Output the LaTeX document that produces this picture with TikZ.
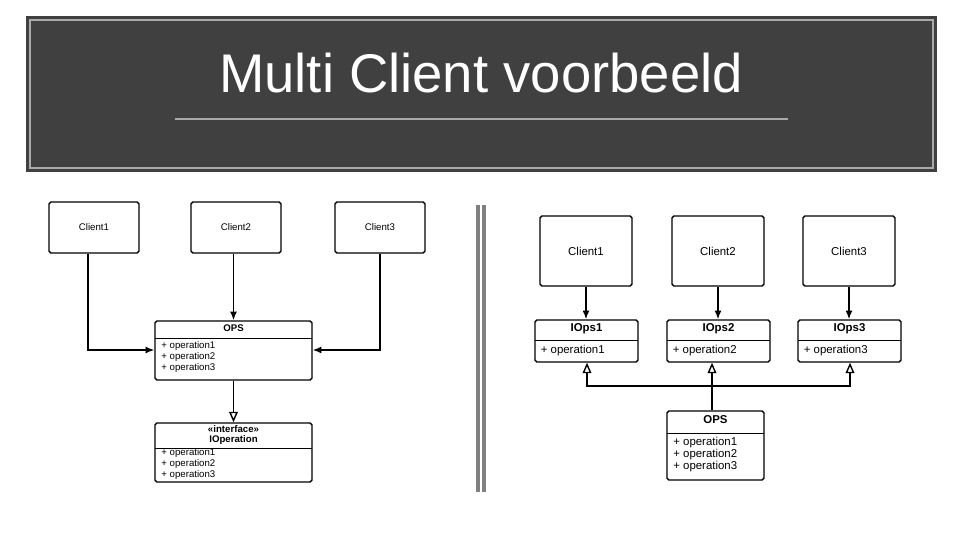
\documentclass[tikz,border=0pt]{standalone}
\usepackage{fontspec}
\setmainfont{Liberation Sans}
\usetikzlibrary{arrows.meta}
\definecolor{banner}{RGB}{64,64,64}
\definecolor{rim}{RGB}{170,170,170}
\tikzset{
	box/.style={draw, thick, rounded corners=1pt, fill=white, inner sep=0pt},
	lbl/.style={font=\fontsize{5.5}{6}\selectfont},
	rlbl/.style={font=\fontsize{6.5}{7}\selectfont},
	ops/.style={anchor=west, align=left, inner sep=0pt},
	link/.style={thick, -{Latex[length=5pt,width=4pt]}},
	impl/.style={thick, -{Triangle[open,length=6pt,width=5pt]}}
}
\begin{document}
\begin{tikzpicture}[x=0.02cm, y=-0.02cm]
	\useasboundingbox[fill=white] (0,0) rectangle (960,540);
	
	%kop
	\fill[banner] (26,16) rectangle (937,172);
	\draw[rim, thick] (30,20) rectangle (933,168);
	\node[text=white, font=\fontsize{31}{36}\selectfont] (title) at (481,73) {Multi Client voorbeeld};
	\draw[rim, thick] (175,119) -- (788,119);
	
	%scheiding
	\draw[gray, line width=2pt] (478,205) -- (478,492);
	\draw[gray, line width=2pt] (484,205) -- (484,492);
	
	%links
	\foreach \i/\x in {1/94, 2/236, 3/380} {
		\node[box, lbl, minimum width=1.8cm, minimum height=1.02cm] (lc\i) at (\x,227.5) {Client\i};
	}
	\node[box, minimum width=3.14cm, minimum height=1.18cm] (lops) at (233.5,350.5) {};
	\node[lbl, font=\fontsize{5.5}{6}\bfseries] (lopsT) at (233.5,328) {OPS};
	\draw (155,338) -- (312,338);
	\node[lbl, ops] (lopsM) at (161,357) {+ operation1\\+ operation2\\+ operation3};
	
	\node[box, minimum width=3.14cm, minimum height=1.18cm] (iop) at (233.5,452.5) {};
	\node[lbl, font=\fontsize{5.5}{6}\bfseries, align=center] (iopT) at (233.5,435) {<<interface>>\\IOperation};
	\draw (155,448) -- (312,448);
	\node[lbl, ops] (iopM) at (161,464) {+ operation1\\+ operation2\\+ operation3};
	
	\coordinate (k1) at (88,350);
	\coordinate (k3) at (380,350);
	\draw[link] (lc1.south -| k1) -- (k1) -- (lops.west |- k1);
	\draw[link] (lc2.south -| lops.north) -- (lops.north);
	\draw[link] (lc3.south) -- (k3) -- (lops.east |- k3);
	\draw[impl] (lops.south) -- (iop.north);
	
	%rechts
	\foreach \i/\x/\ix in {1/586/586.5, 2/718/718.5, 3/849/849.5} {
		\node[box, rlbl, minimum width=1.84cm, minimum height=1.4cm] (rc\i) at (\x,251) {Client\i};
		\node[box, minimum width=2.06cm, minimum height=0.84cm] (iops\i) at (\ix,341) {};
		\node[rlbl, font=\fontsize{6.5}{7}\bfseries] (iopsT\i) at (\ix,329) {IOps\i};
		\draw (\ix-51.5,340) -- (\ix+51.5,340);
		\node[rlbl, ops] (iopsM\i) at (\ix-46,351) {+ operation\i};
		\draw[link] (rc\i.south) -- (rc\i.south |- iops\i.north);
	}
	\node[box, minimum width=1.94cm, minimum height=1.38cm] (rops) at (715.5,445.5) {};
	\node[rlbl, font=\fontsize{6.5}{7}\bfseries] (ropsT) at (715.5,420) {OPS};
	\draw (667,433) -- (764,433);
	\node[rlbl, ops] (ropsM) at (673,454.5) {+ operation1\\+ operation2\\+ operation3};
	
	\coordinate (h) at (712,386);
	\draw[thick] (rops.north -| h) -- (h);
	\draw[impl] (h) -- (h |- iops2.south);
	\draw[impl] (h) -| (iops1.south -| 587,0);
	\draw[impl] (h) -| (iops3.south -| 850,0);
\end{tikzpicture}
\end{document}
